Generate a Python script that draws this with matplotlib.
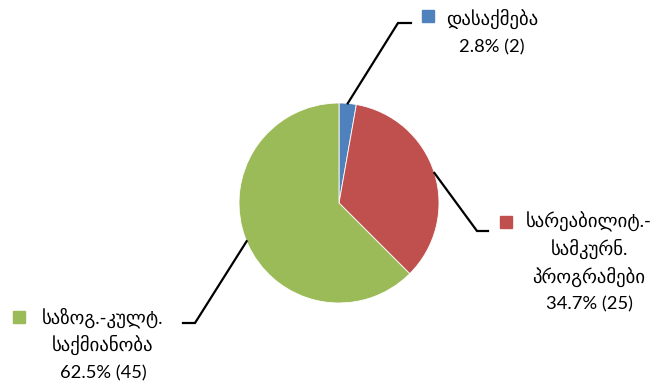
import numpy as np
import matplotlib.pyplot as plt

categories = [['დასაქმება'],
              ['სარეაბილიტ.-', 'სამკურნ.', 'პროგრამები'],
              ['საზოგ.-კულტ.', 'საქმიანობა']]
counts = [2, 25, 45]
colors = ['#4F81BD', '#C0504D', '#9BBB59']

W, H = 657, 387
fig = plt.figure(figsize=(W / 100, H / 100), dpi=100)
ax = fig.add_axes([0, 0, 1, 1])

cx, cy, r = 339, H - 203, 100
wedges, _ = ax.pie(counts, colors=colors, startangle=90, counterclock=False,
                   center=(cx, cy), radius=r, frame=True,
                   wedgeprops=dict(edgecolor='white', linewidth=0.6))
ax.set_xlim(0, W)
ax.set_ylim(0, H)
ax.axis('off')

total = sum(counts)
# elbow, stub end, key marker, text centre x and first baseline (pixels from top-left)
layout = [
    dict(elbow=(398, 23), stub=(411, 23), key=(427.5, 15.5), tx=492, base=25),
    dict(elbow=(477, 231), stub=(488, 231), key=(506, 222), tx=589, base=228),
    dict(elbow=(195, 323), stub=(183, 323), key=(18.5, 317), tx=103, base=324),
]
fonts = ['Lato', 'DejaVu Sans']
step = 27.3

for w, n, lines, lay in zip(wedges, counts, categories, layout):
    mid = np.deg2rad((w.theta1 + w.theta2) / 2)
    x0, y0 = cx + r * np.cos(mid), cy + r * np.sin(mid)
    ex, ey = lay['elbow']
    sx, sy = lay['stub']
    ax.plot([x0, ex, sx], [y0, H - ey, H - sy], color='black', lw=1.6,
            solid_joinstyle='miter')
    kx, ky = lay['key']
    ax.plot([kx], [H - ky], marker='s', markersize=8.5, color=w.get_facecolor(),
            linestyle='none')
    rows = [(t, 13.5) for t in lines] + [(f'{100 * n / total:.1f}% ({n})', 13.2)]
    for i, (t, size) in enumerate(rows):
        ax.text(lay['tx'], H - (lay['base'] + i * step), t, ha='center',
                va='baseline', fontsize=size, family=fonts, color='black')

fig.savefig('out.png', dpi=100)
